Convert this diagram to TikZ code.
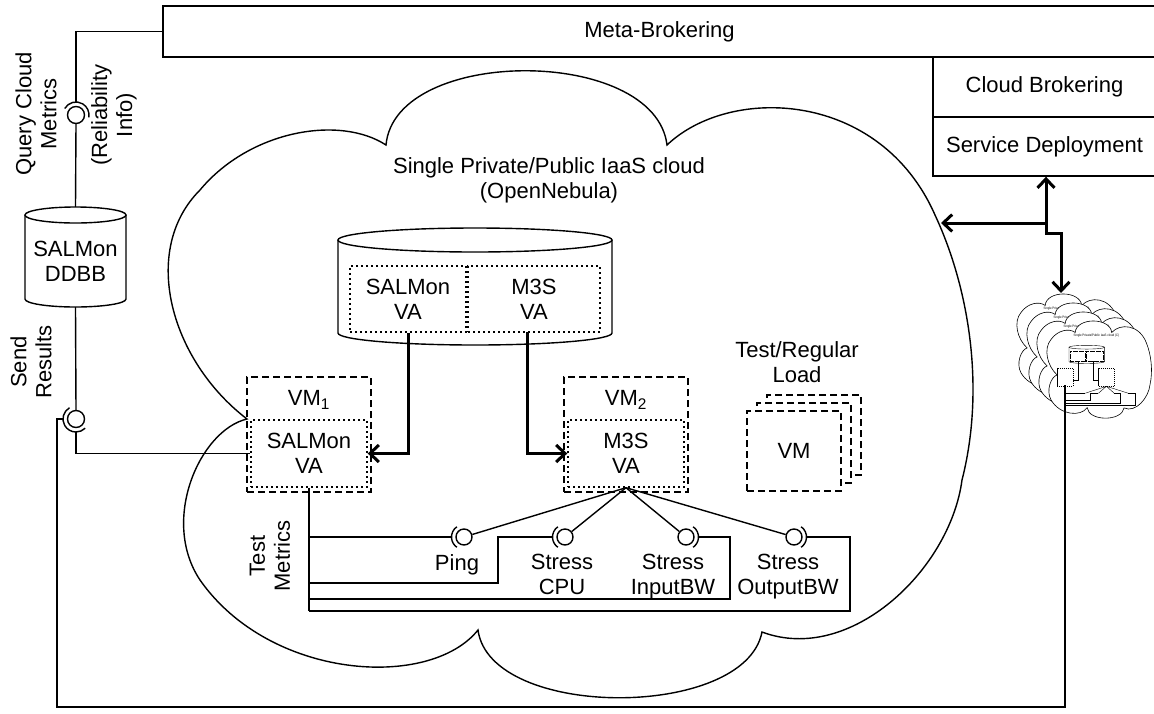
\documentclass[tikz,border=0pt]{standalone}
\usepackage{fontspec}
\setmainfont{Liberation Sans}
\usetikzlibrary{arrows.meta}
\newcommand{\cloudoutline}[1]{%
  \path[#1] (386,145) .. controls (395,46) and (655,46) .. (667,145)
    .. controls (730,85) and (880,90) .. (935,215)
    .. controls (970,290) and (985,390) .. (962,480)
    .. controls (950,570) and (850,665) .. (762,632)
    .. controls (745,720) and (490,720) .. (478,630)
    .. controls (430,690) and (270,680) .. (200,580)
    .. controls (160,520) and (200,430) .. (247,419)
    .. controls (170,360) and (140,250) .. (200,190)
    .. controls (250,130) and (340,115) .. (386,145) -- cycle;}
\newcommand{\minicontent}{%
  \draw[line width=0.4pt] (338,240) -- (338,333) arc[start angle=180,end angle=0,x radius=137,y radius=12] -- (612,240);
  \draw[line width=0.4pt] (475,240) ellipse[x radius=137,y radius=12];
  \draw[line width=0.4pt,dash pattern=on 0.6pt off 0.6pt] (350,266) rectangle (466,332) (468,266) rectangle (600,332);
  \draw[line width=0.5pt,dash pattern=on 1.2pt off 0.8pt] (247,377) rectangle (371,492) (564,377) rectangle (688,492);
  \draw[line width=0.8pt] (408,332) |- (371,453);
  \draw[line width=0.8pt] (527,332) |- (564,453);
  \draw[line width=0.4pt] (309,492) -- (309,611) -- (850,611) -- (850,537) -- (794,537);
  \draw[line width=0.4pt] (309,599) -- (730,599) -- (730,537) -- (686,537);
  \draw[line width=0.4pt] (309,583) -- (498,583) -- (498,537) -- (565,537);
  \draw[line width=0.4pt] (309,537) -- (464,537);
  \draw[line width=0.4pt] (626,492) -- (464,537) (626,492) -- (565,537) (626,492) -- (686,537) (626,492) -- (794,537);
}
\begin{document}
\begin{tikzpicture}[x=1pt,y=-1pt,
  font=\fontsize{22}{25}\selectfont,
  ln/.style={line width=1.4pt},
  plainbox/.style={draw,line width=1.4pt,inner sep=0pt,align=center},
  txt/.style={inner sep=0pt,align=center},
  dashbox/.style={draw,line width=1.4pt,dash pattern=on 7pt off 4pt,inner sep=0pt,align=center},
  dotbox/.style={draw,line width=1.4pt,dash pattern=on 2pt off 3pt,inner sep=0pt,align=center},
  ball/.style={circle,draw,line width=1.4pt,minimum size=17pt,inner sep=0pt},
  bigarrow/.style={line width=3pt,-{Straight Barb[length=9pt,width=17pt]}},
]
\useasboundingbox (0,0) rectangle (1154,713);

% main cloud
\cloudoutline{draw,ln}
\node[txt] (ctitle) at (549,180) {Single Private/Public IaaS cloud\\(OpenNebula)};

% top boxes
\node[plainbox,minimum width=993pt,minimum height=51pt] (meta) at (659.5,31.5) {Meta-Brokering};
\node[plainbox,minimum width=223pt,minimum height=60pt] (cb) at (1044.5,87) {Cloud Brokering};
\node[plainbox,minimum width=223pt,minimum height=59pt] (sd) at (1044.5,146.5) {Service Deployment};

% SALMon DDBB cylinder
\draw[ln] (25,215) -- (25,299) arc[start angle=180,end angle=0,x radius=50.5,y radius=8] -- (126,215);
\draw[ln] (75.5,215) ellipse[x radius=50.5,y radius=8];
\node[txt,minimum width=101pt,minimum height=92pt] (ddbb) at (75.5,261) {SALMon\\DDBB};

% Query lollipop
\node[ball] (qball) at (76,115) {};
\draw[ln] (qball.center) ++(-150:13) arc[start angle=-150,end angle=10,radius=13];
\coordinate (qsock) at (76,102);
\draw[ln] (meta.west) -| (qsock);
\draw[ln] (qball.south) -- ([yshift=8pt]ddbb.north);
\node[txt,rotate=90] (qcm) at (36,114) {Query Cloud\\Metrics};
\node[txt,rotate=90] (rel) at (114,115) {(Reliability\\Info)};

% Send results lollipop
\node[ball] (sball) at (76,419) {};
\draw[ln] (sball.center) ++(-120:13) arc[start angle=-120,end angle=-315,radius=13];
\coordinate (ssockL) at (63,419);
\coordinate (ssockB) at (76,432);
\draw[ln] (ddbb.south) -- (sball.north);
\node[txt,rotate=90] (sr) at (31,362) {Send\\Results};

% repository cylinder
\draw[ln] (338,240) -- (338,333) arc[start angle=180,end angle=0,x radius=137,y radius=12] -- (612,240);
\draw[ln] (475,240) ellipse[x radius=137,y radius=12];
\node[dotbox,minimum width=116pt,minimum height=66pt] (rsal) at (408,299) {SALMon\\VA};
\node[dotbox,minimum width=132pt,minimum height=66pt] (rm3s) at (534,299) {M3S\\VA};
\coordinate (rm3sout) at (527,332);

% VM1 and VM2
\node[dashbox,minimum width=124pt,minimum height=115pt] (vm1) at (309,434.5) {};
\node[txt] (vm1l) at (309,400) {VM\textsubscript{1}};
\node[dotbox,minimum width=116pt,minimum height=67pt] (vm1va) at (309,453.5) {SALMon\\VA};
\node[dashbox,minimum width=124pt,minimum height=115pt] (vm2) at (626,434.5) {};
\node[txt] (vm2l) at (626,400) {VM\textsubscript{2}};
\node[dotbox,minimum width=116pt,minimum height=67pt] (vm2va) at (626,453.5) {M3S\\VA};

\draw[bigarrow] (rsal.south) |- (vm1va.east);
\draw[bigarrow] (rm3sout) |- (vm2va.west);

% Test / regular load stack
\node[txt] (trl) at (797,362) {Test/Regular\\Load};
\node[dashbox,fill=white,minimum width=94pt,minimum height=80pt] (vmb2) at (814,435) {};
\node[dashbox,fill=white,minimum width=94pt,minimum height=80pt] (vmb1) at (804,443) {};
\node[dashbox,fill=white,minimum width=94pt,minimum height=80pt] (vmf) at (794,451) {VM};

% lollipops of the tests
\node[ball,minimum size=16pt] (bping) at (464,537) {};
\node[ball,minimum size=16pt] (bcpu) at (565,537) {};
\node[ball,minimum size=16pt] (bin) at (686,537) {};
\node[ball,minimum size=16pt] (bout) at (794,537) {};
\draw[ln] (bping.center) ++(-125:12.5) arc[start angle=-125,end angle=-235,radius=12.5];
\draw[ln] (bcpu.center) ++(-125:12.5) arc[start angle=-125,end angle=-235,radius=12.5];
\draw[ln] (bin.center) ++(-55:12.5) arc[start angle=-55,end angle=55,radius=12.5];
\draw[ln] (bout.center) ++(-55:12.5) arc[start angle=-55,end angle=55,radius=12.5];
\coordinate (sping) at (451.5,537);
\coordinate (scpu) at (552.5,537);
\coordinate (sin) at (698.5,537);
\coordinate (sout) at (806.5,537);
\coordinate (tmtop) at (309,537);
\coordinate (tmbot) at (309,611);

\draw[ln] (vm1va.south) -- (tmbot);
\draw[ln] (tmtop) -- (sping);
\draw[ln] (scpu) -- (498,537) -- (498,583) -- (309,583);
\draw[ln] (sin) -- (730,537) -- (730,599) -- (309,599);
\draw[ln] (sout) -- (850,537) -- (850,611) -- (tmbot);
\draw[ln] (vm2va.south) -- (bping);
\draw[ln] (vm2va.south) -- (bcpu);
\draw[ln] (vm2va.south) -- (bin);
\draw[ln] (vm2va.south) -- (bout);

\node[txt,anchor=north] (tping) at (457,554) {Ping};
\node[txt,anchor=north] (tcpu) at (562,554) {Stress\\CPU};
\node[txt,anchor=north] (tin) at (673,554) {Stress\\InputBW};
\node[txt,anchor=north] (tout) at (788,554) {Stress\\OutputBW};
\node[txt,rotate=90] (tm) at (270,556) {Test\\Metrics};

% mini clouds
\foreach \i in {0,1,2,3}{
  \begin{scope}[shift={({1025-10*(3-\i)},{310-9*(3-\i)})},xscale=0.13,yscale=0.155]
    \cloudoutline{draw,fill=white,line width=0.6pt}
    \node[txt,transform shape] (mt\i) at (549,168) {Single Private/Public IaaS cloud (C)};
    \ifnum\i=3 \minicontent\fi
  \end{scope}
}
\coordinate (minisal) at (1065,385);
\coordinate (minitop) at (1061,293);

% send results loop
\draw[ln] (ssockB) |- (vm1va.west);
\draw[ln] (ssockL) -- (57,419) -- (57,707) -- (1065,707) -- (minisal);

% cloud brokering arrows
\coordinate (jn) at (1046,223);
\coordinate (cloudR) at (941,223);
\draw[bigarrow] (jn) -- (jn |- sd.south);
\draw[bigarrow] (jn) -- (cloudR);
\draw[bigarrow] (jn) -- (1046,233) -- (1061,233) -- (minitop);
\end{tikzpicture}
\end{document}
